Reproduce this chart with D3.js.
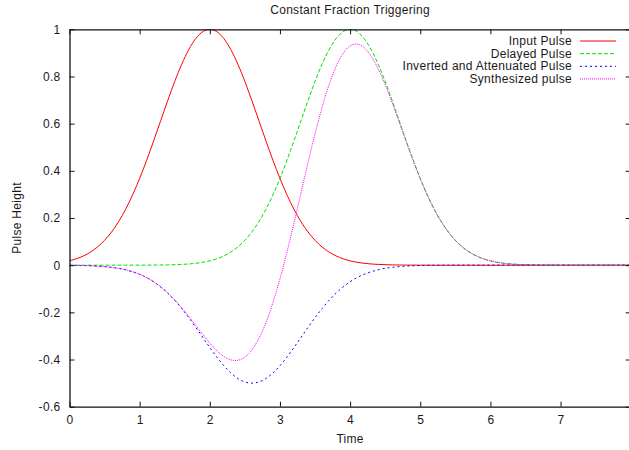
<!DOCTYPE html>
<html>
<head>
<meta charset="utf-8">
<script src="https://cdn.jsdelivr.net/npm/d3@7"></script>
<style>
  html, body { margin: 0; padding: 0; background: #fff; }
  svg { display: block; }
  text { font-family: "Liberation Sans", Arial, Helvetica, sans-serif; font-size: 12px; letter-spacing: 0.3px; fill: #1a1a1a; }
</style>
</head>
<body>
<svg id="chart" width="629" height="450"></svg>
<script>
// Sample times (0 to 8, step 0.2)
const time = [0, 0.2, 0.4, 0.6, 0.8, 1.0, 1.2, 1.4, 1.6, 1.8,
              2.0, 2.2, 2.4, 2.6, 2.8, 3.0, 3.2, 3.4, 3.6, 3.8,
              4.0, 4.2, 4.4, 4.6, 4.8, 5.0, 5.2, 5.4, 5.6, 5.8,
              6.0, 6.2, 6.4, 6.6, 6.8, 7.0, 7.2, 7.4, 7.6, 7.8, 8.0];

const inputPulse = [0.0183, 0.0392, 0.0773, 0.1409, 0.2369, 0.3679, 0.5273, 0.6977, 0.8521, 0.9608,
                    1.0000, 0.9608, 0.8521, 0.6977, 0.5273, 0.3679, 0.2369, 0.1409, 0.0773, 0.0392,
                    0.0183, 0.0079, 0.0032, 0.0012, 0.0004, 0.0001, 0, 0, 0, 0,
                    0, 0, 0, 0, 0, 0, 0, 0, 0, 0, 0];

const delayedPulse = [0, 0, 0, 0, 0, 0.0001, 0.0004, 0.0012, 0.0032, 0.0079,
                      0.0183, 0.0392, 0.0773, 0.1409, 0.2369, 0.3679, 0.5273, 0.6977, 0.8521, 0.9608,
                      1.0000, 0.9608, 0.8521, 0.6977, 0.5273, 0.3679, 0.2369, 0.1409, 0.0773, 0.0392,
                      0.0183, 0.0079, 0.0032, 0.0012, 0.0004, 0.0001, 0, 0, 0, 0, 0];

const invertedPulse = [-0.0006, -0.0016, -0.0040, -0.0092, -0.0196, -0.0387, -0.0704, -0.1185, -0.1839, -0.2636,
                       -0.3488, -0.4261, -0.4804, -0.5000, -0.4804, -0.4261, -0.3488, -0.2636, -0.1839, -0.1185,
                       -0.0704, -0.0387, -0.0196, -0.0092, -0.0040, -0.0016, -0.0006, -0.0002, -0.0001, 0,
                       0, 0, 0, 0, 0, 0, 0, 0, 0, 0, 0];

const synthesizedPulse = [-0.0006, -0.0016, -0.0040, -0.0092, -0.0196, -0.0386, -0.0700, -0.1173, -0.1807, -0.2557,
                          -0.3305, -0.3869, -0.4031, -0.3591, -0.2435, -0.0582, 0.1785, 0.4341, 0.6682, 0.8423,
                          0.9296, 0.9221, 0.8325, 0.6885, 0.5233, 0.3663, 0.2363, 0.1407, 0.0772, 0.0392,
                          0.0183, 0.0079, 0.0032, 0.0012, 0.0004, 0.0001, 0, 0, 0, 0, 0];

const xTicks = [0, 1, 2, 3, 4, 5, 6, 7];
const yTicks = [-0.6, -0.4, -0.2, 0, 0.2, 0.4, 0.6, 0.8, 1];

const seriesNames = ["Input Pulse", "Delayed Pulse", "Inverted and Attenuated Pulse", "Synthesized pulse"];
const seriesColors = ["#ff0000", "#00e000", "#0000ff", "#ff00ff"];
const seriesDashes = [null, "4,2", "2,3", "1,1"];
const seriesValues = [inputPulse, delayedPulse, invertedPulse, synthesizedPulse];

const svg = d3.select("#chart");

const plotLeft = 69.5, plotRight = 630.7, plotTop = 29.3, plotBottom = 406.7;
const x = d3.scaleLinear().domain([0, 8]).range([plotLeft, plotRight]);
const y = d3.scaleLinear().domain([-0.6, 1]).range([plotBottom, plotTop]);

// Curves, clipped to the plot frame
svg.append("clipPath").attr("id", "plotclip")
  .append("rect").attr("x", plotLeft).attr("y", plotTop)
  .attr("width", plotRight - plotLeft).attr("height", plotBottom - plotTop);

const line = d3.line()
  .x(d => x(d[0]))
  .y(d => y(d[1]))
  .curve(d3.curveNatural);

const curves = svg.append("g").attr("clip-path", "url(#plotclip)");
seriesValues.forEach((vals, i) => {
  curves.append("path")
    .attr("d", line(time.map((t, k) => [t, vals[k]])))
    .attr("fill", "none")
    .attr("stroke", seriesColors[i])
    .attr("stroke-width", 1)
    .attr("stroke-dasharray", seriesDashes[i]);
});

// Axes: ticks point inward on all four sides
const tickLen = 5;
const axisColor = "#111";

const bottomAxis = d3.axisBottom(x).tickValues(xTicks).tickSizeInner(-tickLen).tickSizeOuter(0).tickPadding(9)
  .tickFormat(d3.format("d"));
const topAxis = d3.axisTop(x).tickValues(xTicks).tickSizeInner(-tickLen).tickSizeOuter(0).tickFormat("");
const leftAxis = d3.axisLeft(y).tickValues(yTicks).tickSizeInner(-tickLen).tickSizeOuter(0).tickPadding(9)
  .tickFormat(d => String(+d.toFixed(1)));
const rightAxis = d3.axisRight(y).tickValues(yTicks).tickSizeInner(-tickLen).tickSizeOuter(0).tickFormat("");

function styleAxis(g) {
  g.attr("font-family", null).attr("font-size", null);
  g.selectAll("path.domain").attr("stroke", axisColor).attr("stroke-width", 1.3);
  g.selectAll(".tick line").attr("stroke", axisColor).attr("stroke-width", 1);
  g.selectAll(".tick text").attr("fill", "#1a1a1a");
}

svg.append("g").attr("transform", `translate(0,${plotBottom})`).call(bottomAxis).call(styleAxis);
svg.append("g").attr("transform", `translate(0,${plotTop})`).call(topAxis).call(styleAxis);
svg.append("g").attr("transform", `translate(${plotLeft},0)`).call(leftAxis).call(styleAxis);
svg.append("g").attr("transform", `translate(${plotRight},0)`).call(rightAxis).call(styleAxis);

// Titles
svg.append("text").attr("x", (plotLeft + plotRight) / 2).attr("y", 14).attr("text-anchor", "middle")
  .text("Constant Fraction Triggering");
svg.append("text").attr("x", (plotLeft + plotRight) / 2).attr("y", 443).attr("text-anchor", "middle")
  .text("Time");
svg.append("text").attr("transform", `translate(21,${(plotTop + plotBottom) / 2}) rotate(-90)`)
  .attr("text-anchor", "middle").text("Pulse Height");

// Legend
const legend = svg.append("g");
seriesNames.forEach((name, i) => {
  const ly = 41 + i * 12.65;
  legend.append("text").attr("x", 572).attr("y", ly + 4).attr("text-anchor", "end").text(name);
  legend.append("line")
    .attr("x1", 580).attr("x2", 616).attr("y1", ly).attr("y2", ly)
    .attr("stroke", seriesColors[i]).attr("stroke-width", 1)
    .attr("stroke-dasharray", seriesDashes[i]);
});
</script>
</body>
</html>
